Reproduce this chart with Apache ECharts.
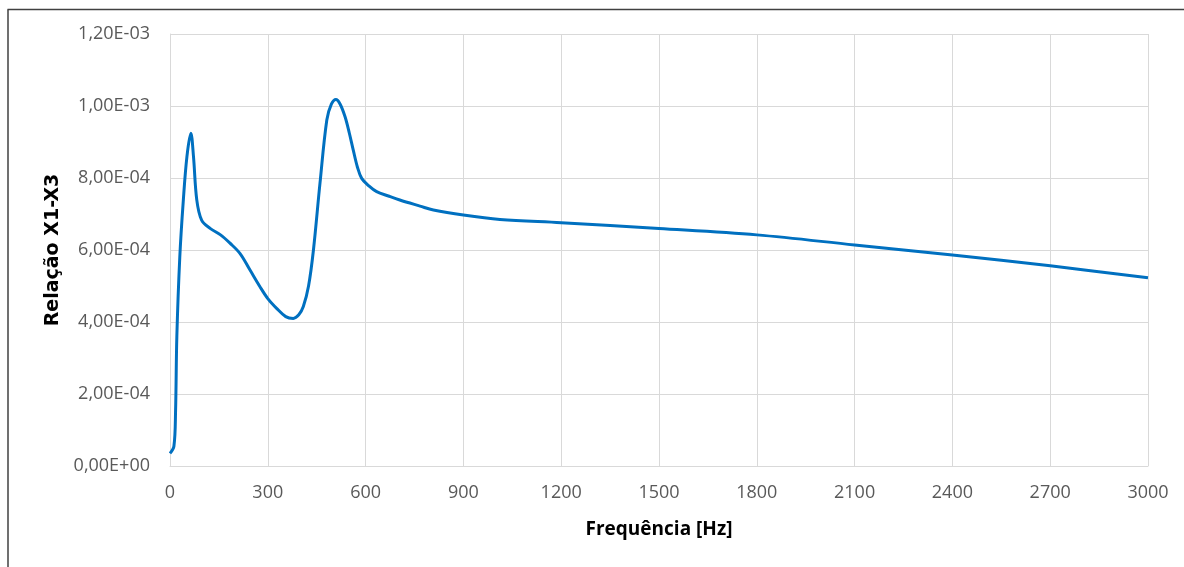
<!DOCTYPE html>
<html>
<head>
<meta charset="utf-8">
<script src="https://cdn.jsdelivr.net/npm/echarts@6/dist/echarts.min.js"></script>
<style>
html,body{margin:0;padding:0;background:#fff;}
#chart{width:1184px;height:567px;}
</style>
</head>
<body>
<div id="chart"></div>
<script>
// Frequency [Hz]
var freq = [0, 12, 17, 21, 30, 41, 52, 64, 72, 82, 97, 123, 155, 184, 215, 245, 276, 300, 327, 355, 378, 395, 409, 425, 440, 460, 481, 495, 509, 522, 537, 550, 562, 575, 588, 610, 634, 670, 705, 767, 808, 900, 1012, 1200, 1500, 1800, 2100, 2400, 2700, 3000];
// Relação X1-X3
var ratio = [0.35e-4, 0.55e-4, 1.5e-4, 3.6e-4, 5.8e-4, 7.4e-4, 8.6e-4, 9.24e-4, 8.6e-4, 7.4e-4, 6.83e-4, 6.6e-4, 6.42e-4, 6.19e-4, 5.9e-4, 5.45e-4, 4.98e-4, 4.65e-4, 4.38e-4, 4.15e-4, 4.1e-4, 4.2e-4, 4.43e-4, 5.0e-4, 6.0e-4, 7.85e-4, 9.61e-4, 10.05e-4, 10.18e-4, 10.05e-4, 9.7e-4, 9.25e-4, 8.78e-4, 8.3e-4, 7.99e-4, 7.78e-4, 7.62e-4, 7.5e-4, 7.39e-4, 7.22e-4, 7.11e-4, 6.97e-4, 6.85e-4, 6.76e-4, 6.6e-4, 6.42e-4, 6.14e-4, 5.86e-4, 5.56e-4, 5.23e-4];
var xTicks = [0, 300, 600, 900, 1200, 1500, 1800, 2100, 2400, 2700, 3000];
var yTicks = [0, 0.0002, 0.0004, 0.0006, 0.0008, 0.001, 0.0012];

function sci(v) {
  if (v === 0) return '0,00E+00';
  var s = v.toExponential(2);
  var parts = s.split('e');
  var mant = parts[0].replace('.', ',');
  var exp = parseInt(parts[1], 10);
  var sign = exp < 0 ? '-' : '+';
  var a = Math.abs(exp);
  return mant + 'E' + sign + (a < 10 ? '0' + a : a);
}

var data = freq.map(function (f, i) { return [f, ratio[i]]; });
var font = '"Open Sans", "Liberation Sans", sans-serif';

var chart = echarts.init(document.getElementById('chart'), null, {renderer: 'canvas'});
chart.setOption({
  animation: false,
  backgroundColor: '#ffffff',
  grid: {left: 170, right: 36, top: 34, bottom: 101, containLabel: false},
  xAxis: {
    type: 'value',
    min: xTicks[0], max: xTicks[xTicks.length - 1], interval: xTicks[1] - xTicks[0],
    name: 'Frequência [Hz]', nameLocation: 'middle', nameGap: 54,
    nameTextStyle: {color: '#000', fontFamily: font, fontWeight: 'bold', fontSize: 19},
    axisLine: {show: true, lineStyle: {color: '#d9d9d9', width: 1}},
    axisTick: {show: false},
    axisLabel: {color: '#595959', fontFamily: font, fontSize: 18, margin: 18, formatter: function (v) { return String(v); }},
    splitLine: {show: true, lineStyle: {color: '#d9d9d9', width: 1}}
  },
  yAxis: {
    type: 'value',
    min: yTicks[0], max: yTicks[yTicks.length - 1], interval: yTicks[1] - yTicks[0],
    name: 'Relação X1-X3', nameLocation: 'middle', nameGap: 106,
    nameTextStyle: {color: '#000', fontFamily: '"DejaVu Sans", sans-serif', fontWeight: 'bold', fontSize: 19},
    axisLine: {show: true, lineStyle: {color: '#d9d9d9', width: 1}},
    axisTick: {show: false},
    axisLabel: {color: '#595959', fontFamily: font, fontSize: 18, margin: 20, formatter: sci},
    splitLine: {show: true, lineStyle: {color: '#d9d9d9', width: 1}}
  },
  graphic: [
    {type: 'line', shape: {x1: 7.5, y1: 9.5, x2: 1184, y2: 9.5}, style: {stroke: '#404040', lineWidth: 1.5}},
    {type: 'line', shape: {x1: 8, y1: 9.5, x2: 8, y2: 567}, style: {stroke: '#404040', lineWidth: 1.5}}
  ],
  series: [{
    type: 'line',
    data: data,
    smooth: 0.35,
    showSymbol: false,
    lineStyle: {color: '#0070C0', width: 3},
    itemStyle: {color: '#0070C0'}
  }]
});
</script>
</body>
</html>
